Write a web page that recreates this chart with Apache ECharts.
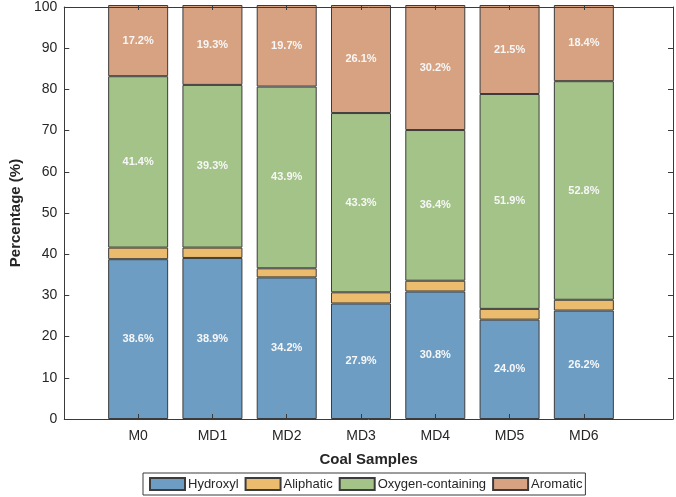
<!DOCTYPE html>
<html>
<head>
<meta charset="utf-8">
<script src="https://cdn.jsdelivr.net/npm/echarts@6/dist/echarts.min.js"></script>
<style>
    html, body { margin: 0; padding: 0; background: #fff; }
    #chart { width: 676px; height: 497px; }
</style>
</head>
<body>
<div id="chart"></div>
<script>
    var categories = ['M0', 'MD1', 'MD2', 'MD3', 'MD4', 'MD5', 'MD6'];
    var hydroxyl = [38.6, 38.9, 34.2, 27.9, 30.8, 24.0, 26.2];
    var aliphatic = [2.8, 2.5, 2.2, 2.7, 2.6, 2.6, 2.6];
    var oxygen = [41.4, 39.3, 43.9, 43.3, 36.4, 51.9, 52.8];
    var aromatic = [17.2, 19.3, 19.7, 26.1, 30.2, 21.5, 18.4];

    var axisColor = '#3a3a3a';
    var textColor = '#262626';
    var font = 'Liberation Sans, Arial, sans-serif';

    function makeSeries(name, values, color, showLabel) {
        return {
            name: name,
            type: 'bar',
            stack: 'total',
            xAxisIndex: 0,
            yAxisIndex: 0,
            barWidth: 60,
            data: values,
            itemStyle: {
                color: color,
                borderColor: '#3c3c3c',
                borderWidth: 1
            },
            label: {
                show: showLabel,
                position: 'inside',
                color: '#f7f7f7',
                fontWeight: 'bold',
                fontSize: 11,
                fontFamily: font,
                formatter: function(p) {
                    return p.value.toFixed(1) + '%';
                }
            },
            emphasis: { disabled: true }
        };
    }

    var myChart = echarts.init(document.getElementById('chart'));
    var option = {
        animation: false,
        grid: [{
            // bars: band width matches the reference category spacing
            left: 101,
            right: 55,
            top: 5,
            bottom: 78
        }, {
            // frame + y labels
            left: 49,
            right: 3,
            top: 5,
            bottom: 78
        }],
        legend: {
            left: 143,
            top: 473,
            data: ['Hydroxyl', 'Aliphatic', 'Oxygen-containing', 'Aromatic'],
            itemWidth: 35,
            itemHeight: 12,
            itemGap: 6,
            padding: [4, 3, 4, 6],
            borderColor: axisColor,
            borderWidth: 1,
            icon: 'rect',
            textStyle: {
                fontSize: 13,
                color: textColor,
                fontFamily: font,
                padding: [0, 0, 0, -2]
            }
        },
        xAxis: [{
            type: 'category',
            gridIndex: 0,
            data: categories,
            position: 'bottom',
            zlevel: 1,
            axisLine: { show: true, lineStyle: { color: axisColor, opacity: 0 } },
            axisTick: {
                show: true,
                inside: true,
                length: 5,
                alignWithLabel: true,
                lineStyle: { color: axisColor }
            },
            axisLabel: {
                margin: 10,
                fontSize: 14,
                color: textColor,
                fontFamily: font
            }
        }, {
            type: 'category',
            gridIndex: 0,
            data: categories,
            position: 'top',
            zlevel: 1,
            axisLine: { show: true, lineStyle: { color: axisColor, opacity: 0 } },
            axisTick: {
                show: true,
                inside: true,
                length: 5,
                alignWithLabel: true,
                lineStyle: { color: axisColor }
            },
            axisLabel: { show: false }
        }, {
            type: 'value',
            gridIndex: 1,
            min: 0,
            max: 1,
            position: 'bottom',
            zlevel: 1,
            name: 'Coal Samples',
            nameLocation: 'middle',
            nameGap: 33,
            nameTextStyle: {
                fontSize: 15,
                fontWeight: 'bold',
                color: textColor,
                fontFamily: font
            },
            splitLine: { show: false },
            axisLine: { show: true, onZero: false, lineStyle: { color: axisColor } },
            axisTick: { show: false },
            axisLabel: { show: false }
        }, {
            type: 'value',
            gridIndex: 1,
            min: 0,
            max: 1,
            position: 'top',
            zlevel: 1,
            splitLine: { show: false },
            axisLine: { show: true, onZero: false, lineStyle: { color: axisColor } },
            axisTick: { show: false },
            axisLabel: { show: false }
        }],
        yAxis: [{
            type: 'value',
            gridIndex: 0,
            min: 0,
            max: 100,
            show: false
        }, {
            type: 'value',
            gridIndex: 1,
            min: 0,
            max: 100,
            interval: 10,
            position: 'left',
            zlevel: 1,
            name: 'Percentage (%)',
            nameLocation: 'middle',
            nameGap: 29,
            nameTextStyle: {
                fontSize: 15,
                fontWeight: 'bold',
                color: textColor,
                fontFamily: font
            },
            splitLine: { show: false },
            axisLine: { show: true, onZero: false, lineStyle: { color: axisColor } },
            axisTick: {
                show: true,
                inside: true,
                length: 5,
                lineStyle: { color: axisColor }
            },
            axisLabel: {
                margin: 7,
                fontSize: 14,
                color: textColor,
                fontFamily: font
            }
        }, {
            type: 'value',
            gridIndex: 1,
            min: 0,
            max: 100,
            interval: 10,
            position: 'right',
            zlevel: 1,
            splitLine: { show: false },
            axisLine: { show: true, onZero: false, lineStyle: { color: axisColor } },
            axisTick: {
                show: true,
                inside: true,
                length: 5,
                lineStyle: { color: axisColor }
            },
            axisLabel: { show: false }
        }],
        series: [
            makeSeries('Hydroxyl', hydroxyl, '#6e9dc4', true),
            makeSeries('Aliphatic', aliphatic, '#ebbc6d', false),
            makeSeries('Oxygen-containing', oxygen, '#a3c389', true),
            makeSeries('Aromatic', aromatic, '#d7a281', true)
        ]
    };
    myChart.setOption(option);
</script>
</body>
</html>
